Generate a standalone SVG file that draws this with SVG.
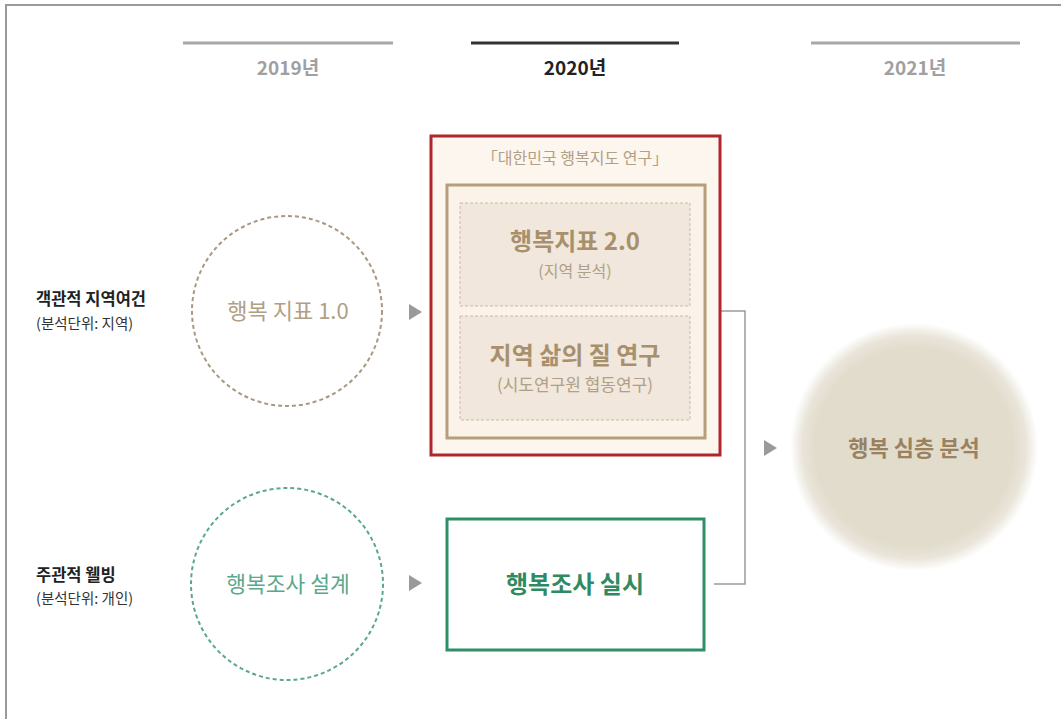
<svg xmlns="http://www.w3.org/2000/svg" width="1061" height="719" viewBox="0 0 1061 719">
<style>
text{font-family:"Noto Sans CJK KR","Noto Sans",sans-serif;text-anchor:middle}
.yr{font-size:19px;font-weight:700;fill:#a0a0a0}
.lbl{font-size:16.5px;font-weight:700;fill:#222;text-anchor:start}
.sub{font-size:14.5px;fill:#333;text-anchor:start}
.tan{fill:#b0a085}
.tanb{fill:#a8906c;font-weight:700}
.grn{fill:#5aa88a}
.tri{fill:#9a9a9a}
.conn{fill:none;stroke:#9a9a9a;stroke-width:1.5}
</style>
<defs>
<radialGradient id="glow" cx="0.5" cy="0.5" r="0.5">
<stop offset="0" stop-color="#e2dccd"/>
<stop offset="0.8" stop-color="#e2dccd"/>
<stop offset="0.9" stop-color="#e2dccd" stop-opacity="0.75"/>
<stop offset="1" stop-color="#e2dccd" stop-opacity="0"/>
</radialGradient>
</defs>
<rect width="1061" height="719" fill="#fff"/>
<g id="frame">
<path d="M6 719V5H1061" fill="none" stroke="#9a9a9a" stroke-width="2"/>
</g>
<g id="years">
<line x1="183" y1="43" x2="393" y2="43" stroke="#a8a8a8" stroke-width="3"/>
<line x1="471" y1="43" x2="679" y2="43" stroke="#333" stroke-width="3"/>
<line x1="811" y1="43" x2="1020" y2="43" stroke="#a8a8a8" stroke-width="3"/>
<text class="yr" x="288" y="75">2019년</text>
<text class="yr" x="575" y="75" style="fill:#222">2020년</text>
<text class="yr" x="915" y="75">2021년</text>
</g>
<g id="row-labels">
<text class="lbl" x="36" y="305">객관적 지역여건</text>
<text class="sub" x="36" y="329">(분석단위: 지역)</text>
<text class="lbl" x="36" y="581">주관적 웰빙</text>
<text class="sub" x="36" y="604">(분석단위: 개인)</text>
</g>
<g id="connectors">
<polygon class="tri" points="409,304 422,312 409,320"/>
<polygon class="tri" points="409,575 422,583 409,591"/>
<polyline class="conn" points="714,311 745,311 745,584 714,584"/>
<polygon class="tri" points="764,440 777,448 764,456"/>
</g>
<g id="node-index1">
<circle cx="287" cy="311" r="95" fill="none" stroke="#a89880" stroke-width="2" stroke-dasharray="4 3"/>
<text class="tan" x="288" y="319" font-size="22">행복 지표 1.0</text>
</g>
<g id="node-survey-design">
<circle cx="287" cy="584" r="96" fill="none" stroke="#5aa88a" stroke-width="2" stroke-dasharray="4 3"/>
<text class="grn" x="288" y="592" font-size="21.5">행복조사 설계</text>
</g>
<g id="node-map-study">
<rect x="431" y="136" width="289" height="319" fill="#fdf6ef" stroke="#b0262a" stroke-width="3"/>
<text class="tan" x="575" y="164" font-size="16">「대한민국 행복지도 연구」</text>
<rect x="447" y="185" width="258" height="253" fill="#fbf3ea" stroke="#b59f7a" stroke-width="3"/>
</g>
<g id="node-index2">
<rect x="460" y="203" width="230" height="103" fill="#f1e7dc" stroke="#cdbba5" stroke-width="1" stroke-dasharray="3 2"/>
<text class="tanb" x="575" y="250" font-size="24">행복지표 2.0</text>
<text class="tan" x="575" y="277" font-size="16">(지역 분석)</text>
</g>
<g id="node-quality">
<rect x="460" y="316" width="230" height="104" fill="#f1e7dc" stroke="#cdbba5" stroke-width="1" stroke-dasharray="3 2"/>
<text class="tanb" x="575" y="364" font-size="24">지역 삶의 질 연구</text>
<text class="tan" x="575" y="391" font-size="17">(시도연구원 협동연구)</text>
</g>
<g id="node-survey">
<rect x="447" y="519" width="257" height="131" fill="#fff" stroke="#2f8f65" stroke-width="3"/>
<text x="575" y="593" font-size="24" font-weight="700" fill="#2f8a62">행복조사 실시</text>
</g>
<g id="node-deep">
<circle cx="914" cy="447" r="124" fill="url(#glow)"/>
<text x="914" y="456" font-size="22" font-weight="700" fill="#9a8260">행복 심층 분석</text>
</g>
</svg>
